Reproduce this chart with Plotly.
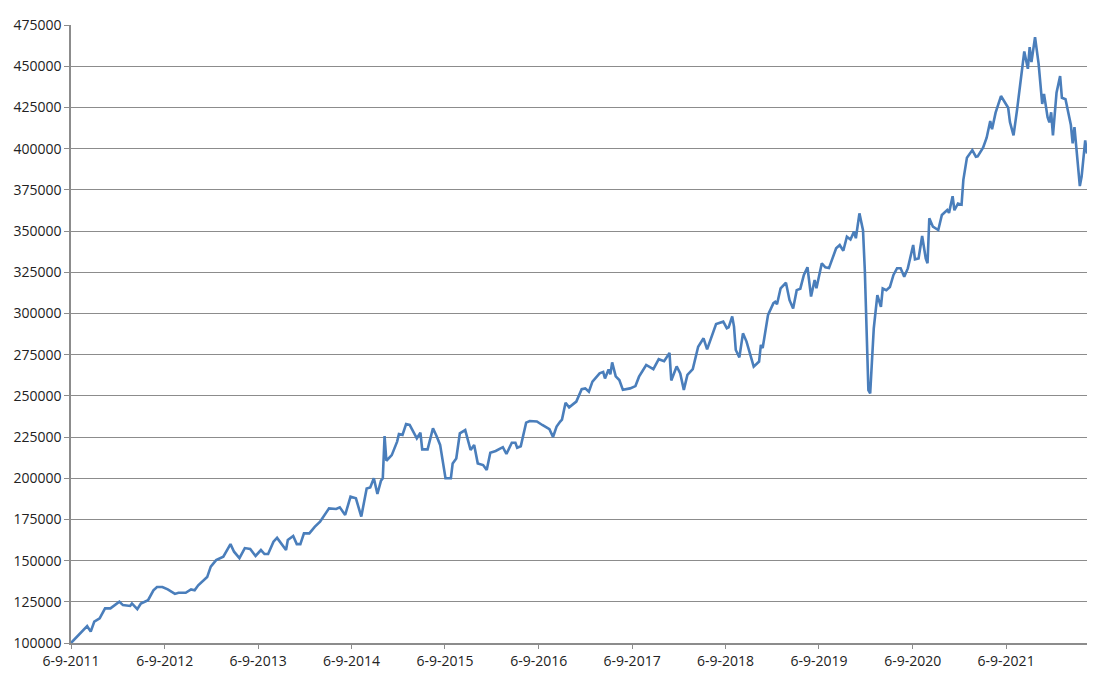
import pandas as pd
import plotly.graph_objects as go

start_date = "2011-09-06"

week_offsets = [
    0, 9, 11, 13, 16, 19, 22, 27, 29, 33, 34, 37, 39, 43, 46, 48, 51, 54, 58, 60,
    64, 67, 69, 71, 76, 78, 81, 85, 89, 91, 94, 97, 100, 103, 106, 108, 110, 113, 115, 117,
    120, 121, 124, 126, 128, 130, 133, 136, 139, 144, 148, 150, 153, 156, 159, 162, 165, 167, 169, 171,
    173, 174, 175, 176, 179, 182, 183, 185, 187, 189, 193, 195, 196, 199, 202, 204, 206, 209, 212, 213,
    215, 217, 220, 223, 225, 227, 230, 232, 234, 237, 241, 243, 246, 248, 249, 251, 254, 256, 260, 263,
    267, 269, 271, 273, 274, 276, 278, 282, 285, 287, 289, 291, 295, 297, 298, 300, 301, 302, 304, 306,
    308, 312, 315, 317, 321, 325, 328, 331, 334, 335, 338, 340, 342, 344, 347, 350, 353, 355, 360, 364,
    366, 367, 369, 370, 371, 373, 375, 377, 379, 381, 384, 385, 386, 389, 392, 393, 394, 396, 399, 401,
    403, 405, 407, 409, 411, 413, 415, 416, 419, 421, 423, 427, 429, 431, 433, 435, 437, 438, 440, 442,
    443, 445, 446, 448, 450, 452, 453, 455, 457, 459, 461, 463, 465, 467, 470, 471, 473, 475, 477, 478,
    479, 481, 484, 486, 489, 490, 492, 493, 495, 497, 498, 500, 503, 505, 506, 509, 511, 513, 514, 516,
    519, 523, 524, 526, 528, 532, 534, 535, 536, 538, 540, 542, 543, 545, 546, 547, 548, 550, 552, 553,
    555, 557, 558, 559, 560, 561, 563, 564, 566, 567,
]

portfolio_values = [
    100000, 110300, 106900, 113000, 115000, 121000, 121000, 125000, 123000, 122500, 124000, 120500, 124000, 126000, 132000, 134000, 134000, 132500, 129800, 130500,
    130500, 132500, 132000, 135000, 140000, 146300, 150300, 152400, 160000, 155400, 151500, 157600, 157000, 152800, 156400, 154000, 154000, 161500, 163800, 160800,
    156400, 162500, 164900, 160000, 160000, 166500, 166500, 170500, 173600, 181700, 181300, 182300, 177700, 188800, 187800, 176700, 193800, 194400, 200000, 190400,
    198500, 200000, 225600, 210600, 214000, 222200, 226800, 226300, 232900, 232300, 224200, 227600, 217500, 217500, 230300, 225600, 220200, 200000, 200000, 209000,
    212000, 227200, 229200, 217100, 220200, 209000, 208000, 205000, 215500, 216500, 218800, 214700, 221500, 221500, 218500, 219400, 233700, 234700, 234400, 232300,
    229700, 225000, 231300, 234400, 235600, 245800, 243000, 246500, 254000, 254500, 252500, 258600, 263600, 264500, 260500, 266000, 263000, 270300, 261800, 259600,
    253600, 254500, 255900, 261600, 268700, 266200, 272200, 271000, 276000, 259300, 267800, 263600, 253600, 262700, 266200, 279800, 284900, 278200, 293600, 295000,
    291000, 291500, 298100, 292000, 277800, 273300, 287900, 282900, 274800, 267700, 270800, 280900, 279000, 299100, 306200, 307000, 305500, 315200, 318600, 308000,
    303000, 314100, 315000, 323300, 328000, 310200, 320300, 315300, 330400, 328000, 327500, 339500, 341500, 338000, 346500, 344800, 349600, 345600, 360700, 350500,
    326300, 253500, 251500, 290900, 311100, 304000, 315100, 314100, 316000, 323300, 327400, 327400, 322300, 327300, 341500, 332800, 333300, 347000, 333400, 330400,
    357700, 352600, 350600, 359700, 362700, 361000, 371100, 362600, 366700, 366000, 381000, 394500, 399100, 395100, 395300, 400600, 406600, 416700, 411700, 421800,
    431900, 424800, 416100, 408000, 423800, 458900, 448400, 461600, 452500, 467600, 451400, 427100, 433200, 419000, 416000, 422000, 408000, 433900, 444000, 430800,
    430000, 419400, 414300, 403200, 413000, 401200, 377300, 383000, 405000, 397000,
]

tick_dates = ["2011-09-06", "2012-09-06", "2013-09-06", "2014-09-06", "2015-09-06", "2016-09-06",
              "2017-09-06", "2018-09-06", "2019-09-06", "2020-09-06", "2021-09-06"]
tick_labels = ["6-9-2011", "6-9-2012", "6-9-2013", "6-9-2014", "6-9-2015", "6-9-2016",
               "6-9-2017", "6-9-2018", "6-9-2019", "6-9-2020", "6-9-2021"]
y_ticks = [100000, 125000, 150000, 175000, 200000, 225000, 250000, 275000, 300000,
           325000, 350000, 375000, 400000, 425000, 450000, 475000]

dates = pd.Timestamp(start_date) + pd.to_timedelta([w * 7 for w in week_offsets], unit="D")

fig = go.Figure()
fig.add_trace(go.Scatter(
    x=dates, y=portfolio_values, mode="lines",
    line=dict(color="#4a7ebb", width=2.6),
    showlegend=False, hoverinfo="x+y",
))

axis_color = "#8c8c8c"
fig.update_layout(
    width=1084, height=663,
    margin=dict(l=63, r=5, t=17, b=28),
    paper_bgcolor="white", plot_bgcolor="white",
    font=dict(family="Open Sans, Liberation Sans, Arial, sans-serif", size=14, color="#222222"),
    xaxis=dict(
        type="date", automargin=False,
        range=[dates[0], dates[-1]],
        tickvals=tick_dates, ticktext=tick_labels,
        showgrid=False, zeroline=False,
        showline=True, linecolor=axis_color, linewidth=1.5,
        ticks="outside", ticklen=4, tickcolor=axis_color,
    ),
    yaxis=dict(
        automargin=False,
        range=[100000, 475000],
        tickvals=y_ticks, ticktext=[str(v) for v in y_ticks],
        showgrid=True, gridcolor=axis_color, gridwidth=1.2,
        zeroline=False,
        showline=True, linecolor=axis_color, linewidth=1.5,
        ticks="outside", ticklen=5, tickcolor=axis_color,
    ),
)

fig.write_html("out.html")
